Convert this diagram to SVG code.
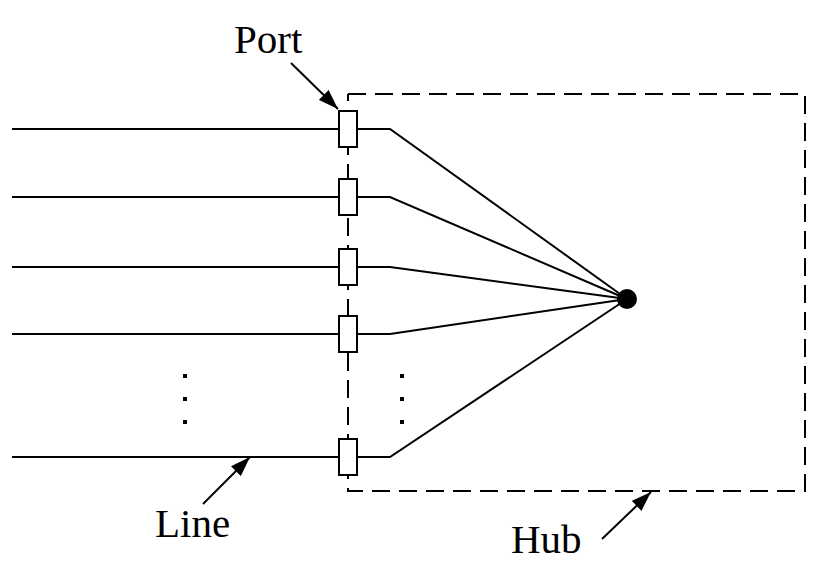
<svg xmlns="http://www.w3.org/2000/svg" width="832" height="575" viewBox="0 0 832 575">
<style>
.ln{stroke:#000;stroke-width:2;fill:none}
.dash{stroke:#000;stroke-width:2;fill:none;stroke-dasharray:18 9}
.port{fill:#fff;stroke:#000;stroke-width:2}
.lbl{font-family:"Liberation Serif","Times New Roman",serif;font-size:41px;fill:#000}
.dot{fill:#000}
</style>
<defs>
<marker id="ah" markerWidth="22" markerHeight="14" refX="20" refY="7" orient="auto" markerUnits="userSpaceOnUse">
<path d="M0,0 L20,7 L0,14 Z" fill="#000"/>
</marker>
</defs>
<rect width="832" height="575" fill="#fff"/>
<g id="hub">
<path class="dash" d="M348,94 H805 V491 H348 V94"/>
</g>
<g id="connectors">
<path class="ln" d="M12,129 H339 M357,129 H390 L627,299"/>
<path class="ln" d="M12,197 H339 M357,197 H390 L627,299"/>
<path class="ln" d="M12,267 H339 M357,267 H390 L627,299"/>
<path class="ln" d="M12,334 H339 M357,334 H390 L627,299"/>
<path class="ln" d="M12,457 H339 M357,457 H390 L627,299"/>
<line class="ln" x1="291" y1="63" x2="338" y2="109" marker-end="url(#ah)"/>
<line class="ln" x1="203" y1="504" x2="250" y2="457" marker-end="url(#ah)"/>
<line class="ln" x1="602" y1="539" x2="651" y2="492" marker-end="url(#ah)"/>
</g>
<g id="ports">
<rect class="port" x="339" y="111" width="18" height="36"/>
<rect class="port" x="339" y="179" width="18" height="36"/>
<rect class="port" x="339" y="249" width="18" height="36"/>
<rect class="port" x="339" y="316" width="18" height="36"/>
<rect class="port" x="339" y="439" width="18" height="36"/>
</g>
<g id="center">
<circle class="dot" cx="627" cy="299" r="10"/>
</g>
<g id="ellipsis">
<rect class="dot" x="183" y="374" width="4" height="4"/>
<rect class="dot" x="183" y="397" width="4" height="4"/>
<rect class="dot" x="183" y="420" width="4" height="4"/>
<rect class="dot" x="400" y="374" width="4" height="4"/>
<rect class="dot" x="400" y="397" width="4" height="4"/>
<rect class="dot" x="400" y="420" width="4" height="4"/>
</g>
<g id="labels">
<text class="lbl" x="234" y="53">Port</text>
<text class="lbl" x="155" y="537">Line</text>
<text class="lbl" x="511" y="553">Hub</text>
</g>
</svg>
